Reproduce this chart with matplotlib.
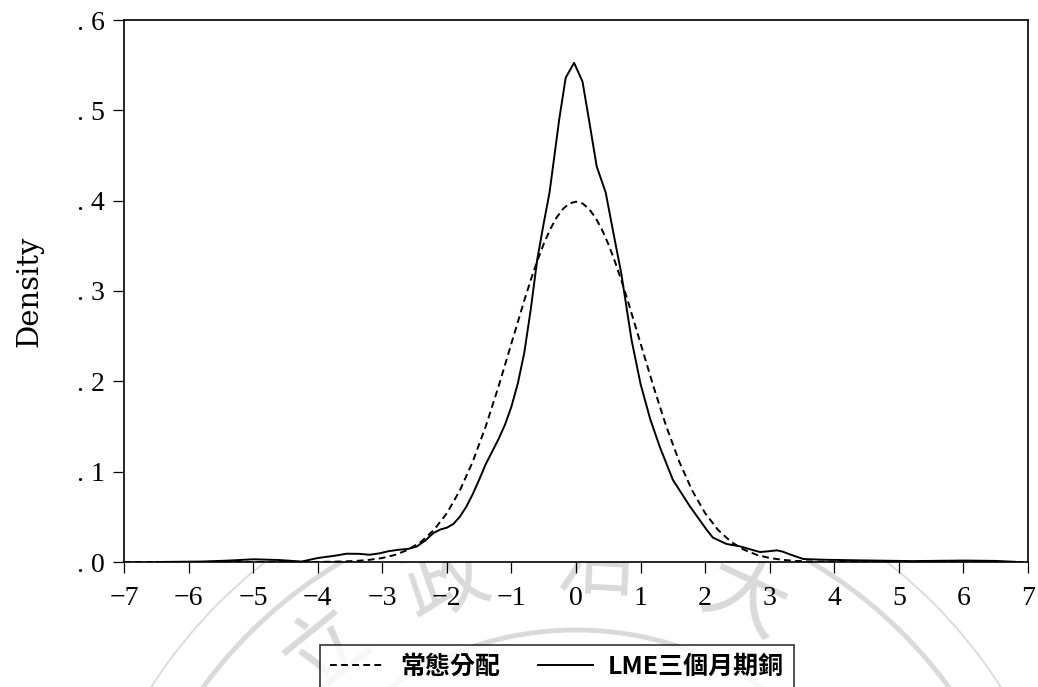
# plot.py
# Kernel density of LME 3-month copper returns vs. standard normal density.

import math

import matplotlib
matplotlib.use("Agg")
import matplotlib.pyplot as plt
from matplotlib.patches import Circle


# =========================
# Data
# =========================

# standard normal density ("常態分配")
norm_x = [-7.0, -5.0, -4.5,
          -4.0, -3.8, -3.6, -3.4, -3.2, -3.0, -2.8, -2.6, -2.4, -2.2,
          -2.0, -1.8, -1.6, -1.4, -1.2, -1.0, -0.8, -0.7, -0.6, -0.5,
          -0.4, -0.3, -0.2, -0.1,
          0.0, 0.1, 0.2, 0.3, 0.4, 0.5, 0.6, 0.7, 0.8, 1.0,
          1.2, 1.4, 1.6, 1.8,
          2.0, 2.2, 2.4, 2.6, 2.8, 3.0, 3.2, 3.4, 3.6, 3.8,
          4.0, 4.5, 5.0, 7.0]
norm_y = [0.0, 0.0, 0.0,
          0.0001, 0.0003, 0.0006, 0.0012, 0.0024, 0.0044, 0.0079, 0.0136, 0.0224, 0.0355,
          0.0540, 0.0790, 0.1109, 0.1497, 0.1942, 0.2420, 0.2897, 0.3123, 0.3332, 0.3521,
          0.3683, 0.3814, 0.3910, 0.3970,
          0.3989, 0.3970, 0.3910, 0.3814, 0.3683, 0.3521, 0.3332, 0.3123, 0.2897, 0.2420,
          0.1942, 0.1497, 0.1109, 0.0790,
          0.0540, 0.0355, 0.0224, 0.0136, 0.0079, 0.0044, 0.0024, 0.0012, 0.0006, 0.0003,
          0.0001, 0.0, 0.0, 0.0]

# kernel density of LME 3-month copper
lme_x = [-6.5, -5.8, -5.4, -5.0, -4.6, -4.25, -4.0, -3.75, -3.55, -3.35,
         -3.2, -3.05, -2.9, -2.75, -2.6, -2.47, -2.33, -2.21, -2.1, -2.0,
         -1.9, -1.8, -1.7, -1.6, -1.5, -1.4, -1.3, -1.2, -1.1, -1.0,
         -0.9, -0.8, -0.7, -0.6, -0.5, -0.41, -0.33, -0.26, -0.16, -0.03,
         0.1, 0.2, 0.32, 0.46, 0.58, 0.7, 0.86, 1.0, 1.15, 1.3,
         1.5, 1.76, 2.02, 2.12, 2.33, 2.54, 2.7, 2.85, 3.0, 3.11,
         3.2, 3.31, 3.52, 3.83, 4.5, 5.2, 6.0, 6.5, 6.8]
lme_y = [0.0, 0.0005, 0.0015, 0.003, 0.0022, 0.0005, 0.0044, 0.0068, 0.0092, 0.009,
         0.008, 0.0095, 0.012, 0.0135, 0.0145, 0.017, 0.024, 0.032, 0.036, 0.038,
         0.042, 0.050, 0.061, 0.075, 0.091, 0.108, 0.122, 0.136, 0.152, 0.172,
         0.198, 0.232, 0.280, 0.335, 0.375, 0.409, 0.452, 0.490, 0.536, 0.5526,
         0.532, 0.490, 0.438, 0.409, 0.364, 0.320, 0.246, 0.197, 0.158, 0.127,
         0.091, 0.062, 0.036, 0.027, 0.020, 0.0173, 0.014, 0.011, 0.012, 0.0129,
         0.0115, 0.0085, 0.0033, 0.0025, 0.0017, 0.001, 0.0016, 0.0012, 0.0002]

x_ticks = [-7, -6, -5, -4, -3, -2, -1, 0, 1, 2, 3, 4, 5, 6, 7]
x_labels = ["−7", "−6", "−5", "−4", "−3", "−2", "−1",
            "0", "1", "2", "3", "4", "5", "6", "7"]
y_ticks = [0.0, 0.1, 0.2, 0.3, 0.4, 0.5, 0.6]
y_labels = [". 0", ". 1", ". 2", ". 3", ". 4", ". 5", ". 6"]

labels = ["常態分配", "LME三個月期銅"]

# watermark characters along the seal ring
seal_chars = ["立", "政", "治", "大"]
seal_angles = [-39, -19, 3, 25]


# =========================
# Figure
# =========================

W, H = 1038, 687
fig = plt.figure(figsize=(W / 100, H / 100), dpi=100, facecolor="white")

# faint seal watermark, drawn in pixel coordinates behind the plot
bg = fig.add_axes([0, 0, 1, 1], zorder=-1)
bg.set_xlim(0, W)
bg.set_ylim(H, 0)
bg.axis("off")
bg.patch.set_alpha(0)

gray = "#dadada"
cx, cy = 576, 960
bg.add_patch(Circle((cx, cy), 505, fill=False, ec=gray, lw=1.3))
bg.add_patch(Circle((cx, cy), 462, fill=False, ec=gray, lw=3.5))
bg.add_patch(Circle((cx, cy), 330, fill=False, ec=gray, lw=3.5))

for ch, ang in zip(seal_chars, seal_angles):
    r = 398
    px = cx + r * math.sin(math.radians(ang))
    py = cy - r * math.cos(math.radians(ang))
    bg.text(px, py, ch, fontsize=60, color=gray, rotation=-ang,
            ha="center", va="center", rotation_mode="anchor",
            family=["Noto Sans CJK TC", "DejaVu Sans"], fontweight="light")

# main plot
ax = fig.add_axes([124 / W, 1 - 562 / H, 904 / W, 542 / H], zorder=0)
ax.set_facecolor("white")

ax.plot(norm_x, norm_y, color="black", lw=1.4, linestyle=(0, (3.5, 2.2)),
        label=labels[0])
ax.plot(lme_x, lme_y, color="black", lw=1.4, label=labels[1])

ax.set_xlim(-7, 7)
ax.set_ylim(0, 0.6)

ax.set_xticks(x_ticks)
ax.set_xticklabels(x_labels, family="Liberation Serif", fontsize=20)
ax.set_yticks(y_ticks)
ax.set_yticklabels(y_labels, family="Liberation Serif", fontsize=20)
ax.tick_params(direction="out", length=8, width=0.9, color="black")
ax.tick_params(axis="x", pad=9)
ax.tick_params(axis="y", pad=6)

for s in ax.spines.values():
    s.set_linewidth(1.2)
    s.set_color("black")

ax.set_ylabel("Density", family="DejaVu Serif", fontsize=21, labelpad=24)

# legend box sits below the axis and runs off the bottom edge
leg = fig.legend(loc="upper left", bbox_to_anchor=(320 / W, 1 - 645 / H),
                 ncol=2, frameon=True, fancybox=False, borderaxespad=0,
                 borderpad=0.4, handlelength=2.2, handletextpad=0.6,
                 columnspacing=1.5,
                 prop={"family": ["Noto Sans CJK TC", "DejaVu Sans"],
                       "weight": "bold", "size": 18})
leg.get_frame().set_edgecolor("black")
leg.get_frame().set_linewidth(1.2)
leg.get_frame().set_facecolor("white")

fig.savefig("out.png", dpi=100, facecolor="white")
